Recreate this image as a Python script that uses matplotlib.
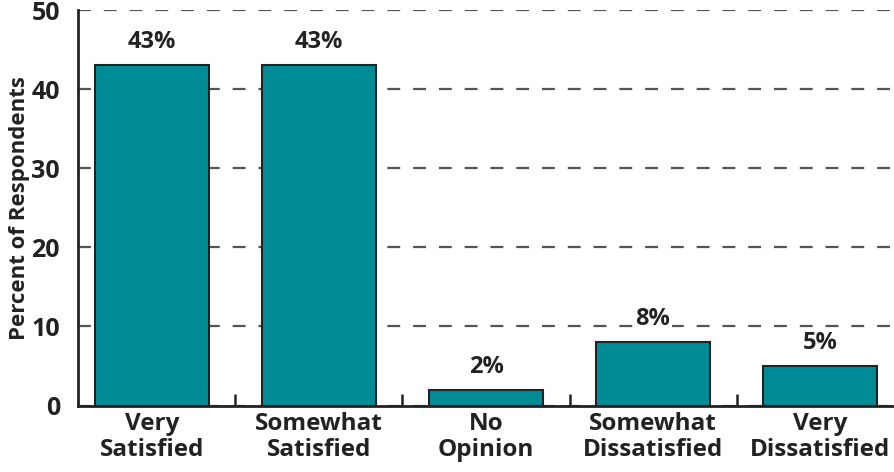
import matplotlib
matplotlib.use("Agg")
import matplotlib.pyplot as plt
import numpy as np

plt.rcParams['font.family'] = ['Open Sans', 'DejaVu Sans']
plt.rcParams['font.weight'] = 'bold'

# data
categories = ["Very\nSatisfied", "Somewhat\nSatisfied", "No\nOpinion",
              "Somewhat\nDissatisfied", "Very\nDissatisfied"]
percents = [43, 43, 2, 8, 5]
y_ticks = [0, 10, 20, 30, 40, 50]

bar_color = "#008C96"
ink = "#222222"

fig = plt.figure(figsize=(8.95, 4.72), dpi=100)
ax = fig.add_axes([78 / 895, 66.5 / 472, 1 - 78 / 895, 395.5 / 472])

x = np.arange(len(categories))
bars = ax.bar(x, percents, width=0.68, color=bar_color, edgecolor=ink,
              linewidth=1.5, zorder=3)

for b, p in zip(bars, percents):
    ax.annotate(f"{p}%", (b.get_x() + b.get_width() / 2, b.get_height()),
                xytext=(0, 8), textcoords="offset points", ha="center", va="bottom",
                fontsize=17, fontweight="bold", color=ink, zorder=4,
                bbox=dict(facecolor="white", edgecolor="none", pad=1))

ax.set_xlim(-0.443, 4.449)
ax.set_ylim(0, 50)
ax.set_yticks(y_ticks)
ax.yaxis.grid(True, linestyle=(0, (5.8, 5.8)), color="#555555", linewidth=1.6, zorder=0)
ax.set_axisbelow(True)

# major ticks sit between categories, labels on minor ticks at bar centres
ax.set_xticks(x[:-1] + 0.5)
ax.set_xticklabels([])
ax.set_xticks(x, minor=True)
ax.set_xticklabels(categories, minor=True, fontsize=17.5, fontweight="bold",
                   color=ink, linespacing=1.1)
ax.tick_params(axis="x", which="major", direction="in", length=9, width=1.8, color=ink)
ax.tick_params(axis="x", which="minor", length=0, pad=5)
ax.tick_params(axis="y", direction="in", length=0, pad=13, labelsize=18,
               labelcolor=ink)
for lbl in ax.get_yticklabels():
    lbl.set_fontweight("bold")

ax.spines["top"].set_visible(False)
ax.spines["right"].set_visible(False)
for side in ("left", "bottom"):
    ax.spines[side].set_linewidth(2)
    ax.spines[side].set_color(ink)

ax.set_ylabel("Percent of Respondents", fontsize=16, fontweight="bold",
              color=ink, labelpad=1)

fig.savefig("out.png", dpi=100)
